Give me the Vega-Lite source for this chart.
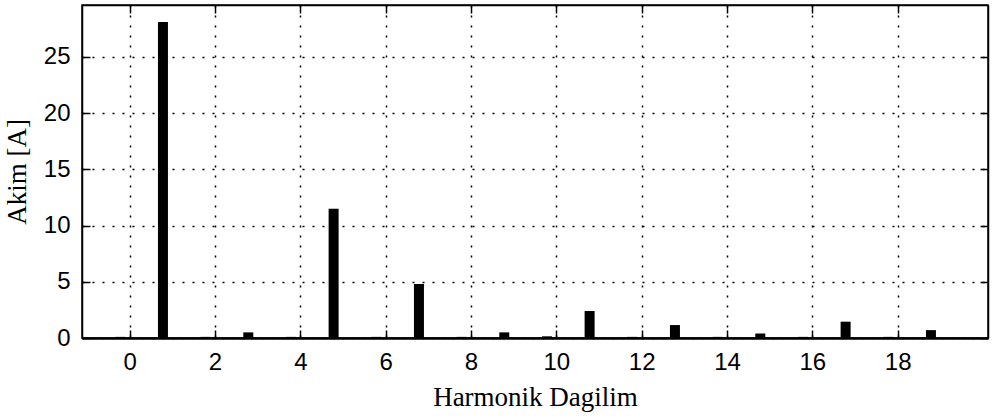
{
  "$schema": "https://vega.github.io/schema/vega-lite/v6.json",
  "width": 906,
  "height": 333,
  "autosize": "none",
  "padding": {"left": 82, "top": 5, "right": 6, "bottom": 78},
  "background": "white",
  "config": {
    "view": {"stroke": "black", "strokeWidth": 1.5},
    "axis": {
      "domainColor": "black",
      "domainWidth": 1.5,
      "tickColor": "black",
      "tickWidth": 1.5,
      "tickSize": -8,
      "labelColor": "black",
      "labelFont": "Liberation Sans, Arial, sans-serif",
      "labelFontSize": 24,
      "titleColor": "black",
      "titleFont": "Liberation Serif, Times New Roman, DejaVu Serif, serif",
      "titleFontSize": 27,
      "titleFontWeight": "normal",
      "gridColor": "black",
      "gridDash": [2, 8],
      "gridWidth": 1.5,
      "gridOpacity": 1
    }
  },
  "data": {
    "values": [
      {"pos": -0.22, "akim": 0.1},
      {"pos": 0.78, "akim": 28.1},
      {"pos": 1.78, "akim": 0.1},
      {"pos": 2.78, "akim": 0.5},
      {"pos": 3.78, "akim": 0.1},
      {"pos": 4.78, "akim": 11.5},
      {"pos": 5.78, "akim": 0.1},
      {"pos": 6.78, "akim": 4.8},
      {"pos": 7.78, "akim": 0.1},
      {"pos": 8.78, "akim": 0.5},
      {"pos": 9.78, "akim": 0.15},
      {"pos": 10.78, "akim": 2.4},
      {"pos": 11.78, "akim": 0.1},
      {"pos": 12.78, "akim": 1.15},
      {"pos": 13.78, "akim": 0.1},
      {"pos": 14.78, "akim": 0.4},
      {"pos": 15.78, "akim": 0.1},
      {"pos": 16.78, "akim": 1.45},
      {"pos": 17.78, "akim": 0.1},
      {"pos": 18.78, "akim": 0.7}
    ]
  },
  "layer": [
    {
      "mark": {"type": "bar", "color": "black", "size": 10},
      "encoding": {
        "x": {
          "field": "pos",
          "type": "quantitative",
          "scale": {"domain": [-1, 20], "nice": false, "zero": false},
          "axis": {
            "orient": "bottom",
            "values": [0, 2, 4, 6, 8, 10, 12, 14, 16, 18],
            "title": "Harmonik Dagilim",
            "titlePadding": 10,
            "labelPadding": 20,
            "domainWidth": 2.5,
            "grid": true
          }
        },
        "y": {
          "field": "akim",
          "type": "quantitative",
          "scale": {"domain": [0, 29.6], "nice": false},
          "axis": {
            "orient": "left",
            "values": [0, 5, 10, 15, 20, 25],
            "title": "Akim [A]",
            "titlePadding": 12,
            "labelPadding": 20,
            "grid": true
          }
        }
      }
    },
    {
      "mark": {"type": "bar", "color": "black", "size": 10, "opacity": 0},
      "encoding": {
        "x": {
          "field": "pos",
          "type": "quantitative",
          "axis": {
            "orient": "top",
            "values": [0, 2, 4, 6, 8, 10, 12, 14, 16, 18],
            "labels": false,
            "title": null,
            "grid": false
          }
        },
        "y": {
          "field": "akim",
          "type": "quantitative",
          "axis": {
            "orient": "right",
            "values": [0, 5, 10, 15, 20, 25],
            "labels": false,
            "title": null,
            "grid": false
          }
        }
      }
    }
  ]
}
